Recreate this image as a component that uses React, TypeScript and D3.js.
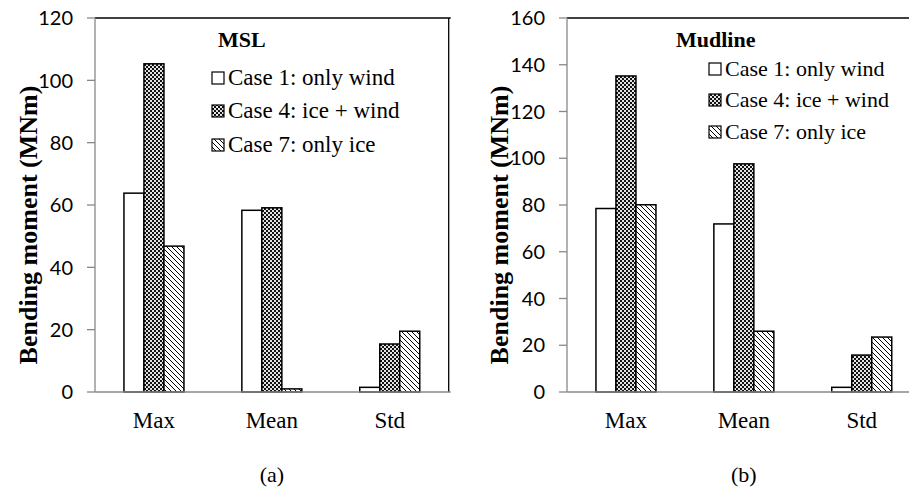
import React from "react";
import * as d3 from "d3";

const categories = ["Max", "Mean", "Std"];
const seriesNames = ["Case 1: only wind", "Case 4: ice + wind", "Case 7: only ice"];

const mslCase1 = [63.8, 58.3, 1.5];
const mslCase4 = [105.3, 59.1, 15.4];
const mslCase7 = [46.8, 1.0, 19.5];

const mudCase1 = [78.5, 71.9, 2.0];
const mudCase4 = [135.2, 97.6, 15.8];
const mudCase7 = [80.1, 26.0, 23.5];

const mslTicks = [0, 20, 40, 60, 80, 100, 120];
const mudTicks = [0, 20, 40, 60, 80, 100, 120, 140, 160];

const W = 909;
const H = 489;
const fills = ["#ffffff", "url(#checker)", "url(#hatch)"];
const serif = "'Liberation Serif', 'Times New Roman', serif";
const sans = "Lato, 'Open Sans', sans-serif";

type PanelProps = {
  x0: number;
  x1: number;
  yMax: number;
  ticks: number[];
  series: number[][];
  title: string;
  titleX: number;
  sub: string;
  yTitleX: number;
  legendX: number;
  legendY: number[];
  legendSize: number;
  rightBorder: boolean;
};

function Panel(p: PanelProps) {
  const yTop = 18;
  const yBot = 392;
  const y = d3.scaleLinear().domain([0, p.yMax]).range([yBot, yTop]);
  const xBand = d3.scaleBand<string>().domain(categories).range([p.x0, p.x1]).paddingInner(0).paddingOuter(0);
  const groupW = 60;
  const xInner = d3.scaleBand<string>().domain(seriesNames).range([0, groupW]).padding(0);
  const clipRight = Math.min(p.x1, W);
  return (
    <g>
      {categories.map((c, ci) => {
        const cx = (xBand(c) as number) + xBand.bandwidth() / 2;
        return seriesNames.map((s, si) => {
          const v = p.series[si][ci];
          const bx = cx - groupW / 2 + (xInner(s) as number);
          return (
            <rect
              key={c + s}
              x={bx}
              y={y(v)}
              width={xInner.bandwidth()}
              height={yBot - y(v)}
              fill={fills[si]}
              stroke="#000"
              strokeWidth={1.5}
            />
          );
        });
      })}
      <line x1={p.x0} x2={clipRight + 2} y1={yTop} y2={yTop} stroke="#000" strokeWidth={1.3} />
      {p.rightBorder && <line x1={p.x1} x2={p.x1} y1={yTop} y2={yBot} stroke="#000" strokeWidth={1.3} />}
      <line x1={p.x0} x2={p.x0} y1={yTop} y2={yBot} stroke="#888" strokeWidth={1.3} />
      <line x1={p.x0} x2={clipRight + 2} y1={yBot} y2={yBot} stroke="#888" strokeWidth={1.5} />
      {p.ticks.map((t) => (
        <g key={t}>
          <line x1={p.x0 - 8} x2={p.x0} y1={y(t)} y2={y(t)} stroke="#888" strokeWidth={1.3} />
          <text
            x={p.x0 - 22}
            y={y(t)}
            dy="0.36em"
            textAnchor="end"
            fontFamily={sans}
            fontSize={20}
            fill="#000"
          >
            {t}
          </text>
        </g>
      ))}
      {categories.map((c) => (
        <text
          key={c}
          x={(xBand(c) as number) + xBand.bandwidth() / 2}
          y={428}
          textAnchor="middle"
          fontFamily={serif}
          fontSize={23}
        >
          {c}
        </text>
      ))}
      <text
        transform={`translate(${p.yTitleX},225) rotate(-90)`}
        textAnchor="middle"
        dy="0.35em"
        fontFamily={serif}
        fontWeight="bold"
        fontSize={26}
      >
        Bending moment (MNm)
      </text>
      <text x={p.titleX} y={47} fontFamily={serif} fontWeight="bold" fontSize={22}>
        {p.title}
      </text>
      {seriesNames.map((s, si) => (
        <g key={s}>
          <rect
            x={p.legendX}
            y={p.legendY[si] - 13}
            width={12}
            height={12}
            fill={fills[si]}
            stroke="#000"
            strokeWidth={1.2}
          />
          <text x={p.legendX + 16} y={p.legendY[si]} fontFamily={serif} fontSize={p.legendSize}>
            {s}
          </text>
        </g>
      ))}
      <text
        x={(xBand(categories[1]) as number) + xBand.bandwidth() / 2}
        y={482}
        textAnchor="middle"
        fontFamily={serif}
        fontSize={22}
      >
        {p.sub}
      </text>
    </g>
  );
}

export default function App() {
  return (
    <svg
      width={W}
      height={H}
      viewBox={`0 0 ${W} ${H}`}
      style={{ position: "absolute", left: 0, top: 0, background: "#fff" }}
    >
      <defs>
        <pattern id="checker" patternUnits="userSpaceOnUse" width={4} height={4}>
          <rect x={0} y={0} width={4} height={4} fill="#e4e4e4" />
          <rect x={0} y={0} width={2} height={2} fill="#111" />
          <rect x={2} y={2} width={2} height={2} fill="#111" />
        </pattern>
        <pattern id="hatch" patternUnits="userSpaceOnUse" width={5} height={5}>
          <rect x={0} y={0} width={5} height={5} fill="#fff" />
          <path d="M-1,-1 L6,6 M-1,4 L1,6 M4,-1 L6,1" stroke="#000" strokeWidth={1.0} />
        </pattern>
      </defs>
      <rect x={0} y={0} width={W} height={H} fill="#fff" />
      <Panel
        x0={95}
        x1={448.7}
        yMax={120}
        ticks={mslTicks}
        series={[mslCase1, mslCase4, mslCase7]}
        title="MSL"
        titleX={218}
        sub="(a)"
        yTitleX={28}
        legendX={212}
        legendY={[85, 118, 152]}
        legendSize={23}
        rightBorder={true}
      />
      <Panel
        x0={567}
        x1={920.7}
        yMax={160}
        ticks={mudTicks}
        series={[mudCase1, mudCase4, mudCase7]}
        title="Mudline"
        titleX={676}
        sub="(b)"
        yTitleX={499}
        legendX={709}
        legendY={[76, 107, 139]}
        legendSize={22}
        rightBorder={false}
      />
    </svg>
  );
}
